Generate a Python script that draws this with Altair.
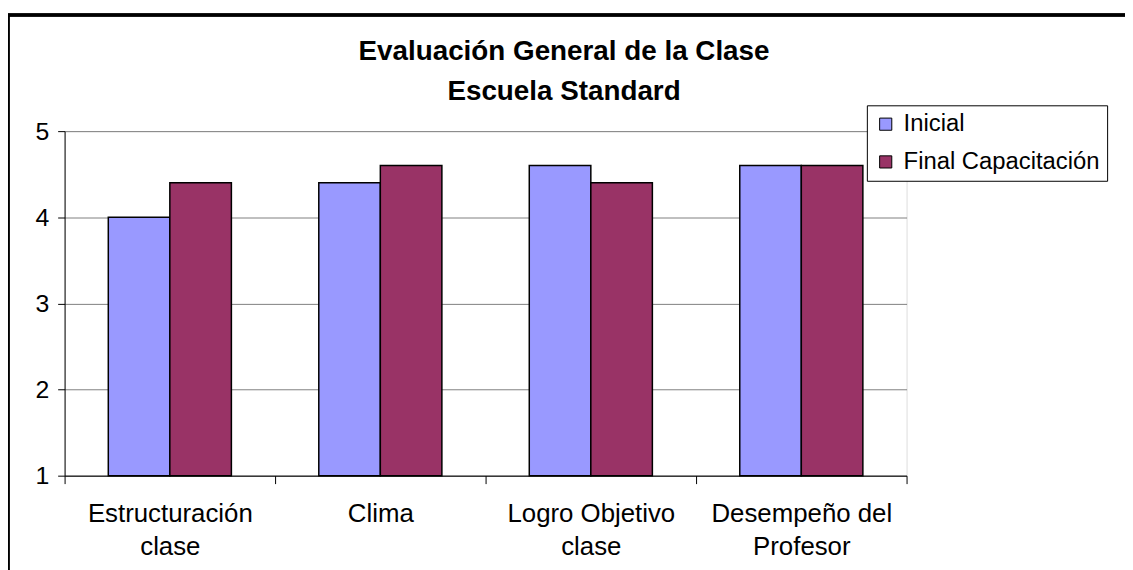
import altair as alt
import pandas as pd

categories = ["Estructuración|clase", "Clima", "Logro Objetivo|clase", "Desempeño del|Profesor"]
series = ["Inicial", "Final Capacitación"]
inicial = [4.0, 4.4, 4.6, 4.6]
final_cap = [4.4, 4.6, 4.4, 4.6]
colors = ["#9999FF", "#993366"]
y_ticks = [1, 2, 3, 4, 5]

rows = []
for c, a, b in zip(categories, inicial, final_cap):
    rows.append({"cat": c, "serie": series[0], "val": a})
    rows.append({"cat": c, "serie": series[1], "val": b})
df = pd.DataFrame(rows)

FONT = "Liberation Sans"
W, H = 848, 347

bars = alt.Chart(df).mark_bar(stroke="black", strokeWidth=1.5).encode(
    x=alt.X("cat:N", sort=categories, title=None,
            scale=alt.Scale(paddingInner=0, paddingOuter=0),
            axis=alt.Axis(labelAngle=0, tickBand="extent", labelExpr="split(datum.label, '|')",
                          labelFontSize=26, labelFont=FONT, labelColor="black",
                          labelLineHeight=33, labelPadding=17, tickSize=8,
                          tickColor="black", domainColor="black", grid=False,
                          labelLimit=300)),
    xOffset=alt.XOffset("serie:N", sort=series,
                        scale=alt.Scale(paddingOuter=0.71, paddingInner=0)),
    y=alt.Y("val:Q", title=None,
            scale=alt.Scale(domain=[1, 5], nice=False, zero=False),
            axis=alt.Axis(values=y_ticks, format="d", labelFontSize=25, labelFont=FONT,
                          labelColor="black", tickSize=7, tickColor="black",
                          domainColor="black", labelPadding=9,
                          grid=True, gridColor="#808080", gridWidth=1)),
    y2=alt.datum(1),
    fill=alt.Fill("serie:N", sort=series,
                  scale=alt.Scale(domain=series, range=colors),
                  legend=alt.Legend(title=None, orient="none", legendX=808, legendY=-26,
                                    labelFontSize=24, labelFont=FONT, labelColor="black",
                                    symbolType="square", symbolSize=150,
                                    symbolStrokeColor="black", symbolStrokeWidth=1,
                                    strokeColor="black", fillColor="white",
                                    padding=7, rowPadding=14, labelLimit=400,
                                    labelOffset=6)),
)

border_top = alt.Chart(df).mark_rule(color="black", strokeWidth=2.5).encode(
    x=alt.value(-57), x2=alt.value(1070), y=alt.value(-117))
border_left = alt.Chart(df).mark_rule(color="black", strokeWidth=2.5).encode(
    x=alt.value(-57), y=alt.value(-118), y2=alt.value(445))

chart = alt.layer(bars, border_top, border_left).properties(
    width=W, height=H,
    padding={"left": 57, "top": 122, "right": 220, "bottom": 93},
    autosize=alt.AutoSizeParams(type="none"),
    title=alt.TitleParams(["Evaluación General de la Clase", "Escuela Standard"],
                          font=FONT, fontSize=28, fontWeight="bold", color="black",
                          anchor="middle", frame="group", dx=79, dy=112,
                          lineHeight=40, offset=18),
).configure_view(fill="#C0C0C0", stroke="#808080", strokeWidth=1).configure(background="white")

chart.save("out.html", embed_options={"renderer": "svg", "actions": False})
